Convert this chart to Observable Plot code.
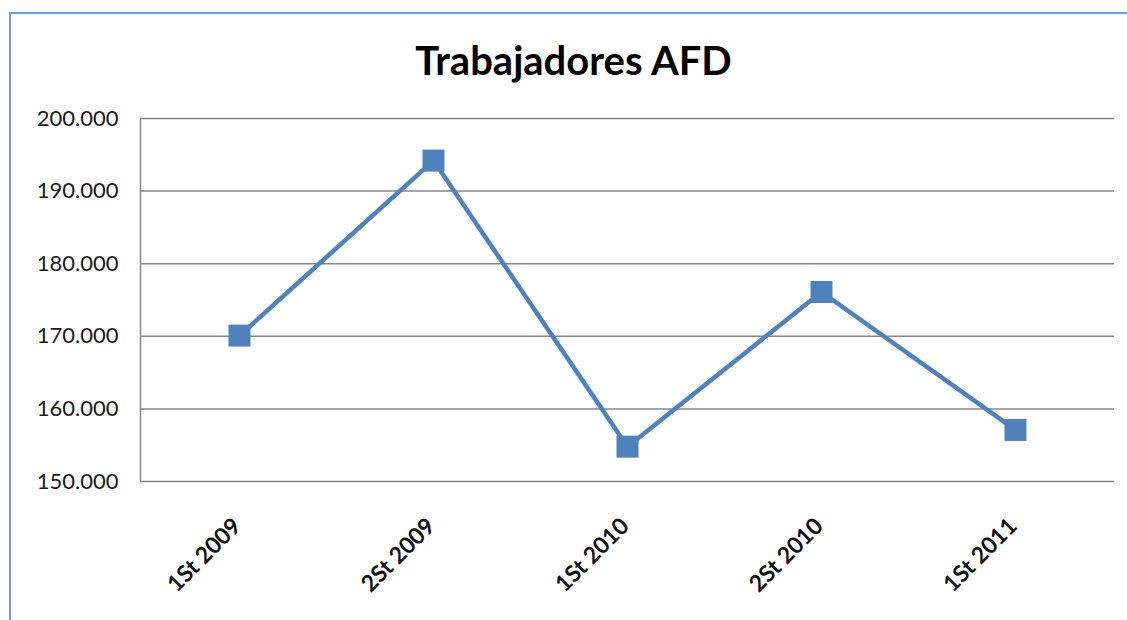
<!DOCTYPE html>
<html>
<head>
<meta charset="utf-8">
<script src="https://cdn.jsdelivr.net/npm/d3@7"></script>
<script src="https://cdn.jsdelivr.net/npm/@observablehq/plot@0.6"></script>
<style>
  body { margin: 0; background: #fff; }
  #wrap { position: relative; width: 1127px; height: 620px; overflow: hidden; background: #fff; }
  #border { position: absolute; left: 9px; top: 12px; width: 1200px; height: 700px;
            border-top: 2px solid #6c9fe0; border-left: 2px solid #6c9fe0; }
  #title { position: absolute; left: 0; width: 1147px; top: 40px; text-align: center;
           font: bold 40px Lato, sans-serif; line-height: 40px; color: #000; }
  #chart { position: absolute; left: 0; top: 90px; }
</style>
</head>
<body>
<div id="wrap">
  <div id="border"></div>
  <div id="title">Trabajadores AFD</div>
  <div id="chart"></div>
</div>
<script>
const categories = ["1St 2009", "2St 2009", "1St 2010", "2St 2010", "1St 2011"];
const values = [170100, 194200, 154800, 176100, 157100];
const yTicks = [150000, 160000, 170000, 180000, 190000, 200000];

const data = categories.map((c, i) => ({cat: c, value: values[i]}));
const locale = d3.formatLocale({decimal: ",", thousands: ".", grouping: [3], currency: ["", ""]});
const fmt = locale.format(",.0f");
const gridColor = "#878787";
const lineColor = "#4f81bd";

const chart = Plot.plot({
  width: 1127,
  height: 530,
  marginLeft: 140,
  marginRight: 13,
  marginTop: 28,
  marginBottom: 139,
  style: {fontFamily: "Lato, sans-serif", fontSize: "22px", color: "#1a1a1a", background: "transparent"},
  x: {type: "point", domain: categories, padding: 0.5, axis: null},
  y: {domain: [150000, 200000], axis: null, label: null},
  marks: [
    Plot.ruleY(yTicks, {stroke: gridColor, strokeWidth: 1.5}),
    Plot.frame({anchor: "left", stroke: gridColor, strokeWidth: 1.5}),
    Plot.axisY({ticks: yTicks, tickSize: 0, tickPadding: 22, tickFormat: fmt, fontSize: 22, fill: "#1a1a1a", label: null}),
    Plot.line(data, {x: "cat", y: "value", stroke: lineColor, strokeWidth: 4.5}),
    Plot.dot(data, {x: "cat", y: "value", symbol: "square", r: 12.4, fill: lineColor, stroke: "none"}),
    Plot.text(categories, {x: d => d, frameAnchor: "bottom", dx: 3, dy: 46, rotate: -45, textAnchor: "end",
      fontWeight: "bold", fontSize: 23, fill: "#111"})
  ]
});
document.getElementById("chart").appendChild(chart);
</script>
</body>
</html>
